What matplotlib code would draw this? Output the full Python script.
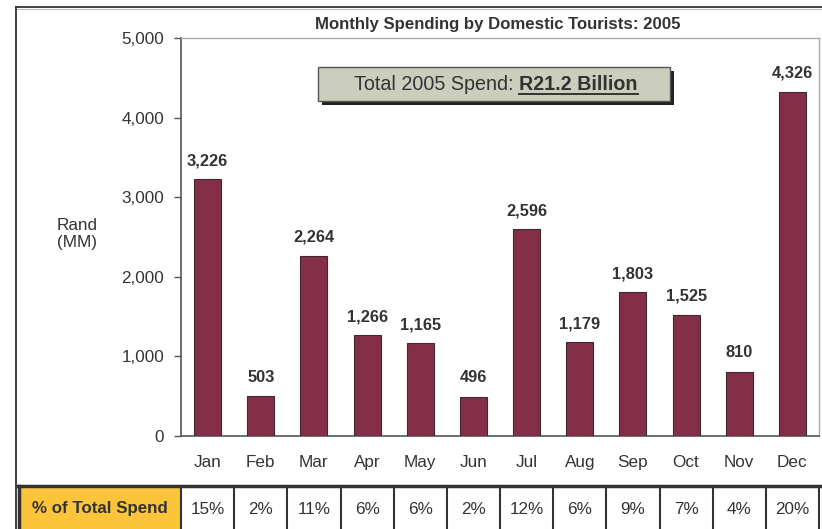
import matplotlib
matplotlib.use("Agg")
import matplotlib.pyplot as plt
from matplotlib.patches import Rectangle
from matplotlib.lines import Line2D
import matplotlib.transforms as mtransforms
from matplotlib.ticker import FuncFormatter

plt.rcParams['font.family'] = ['Liberation Sans', 'DejaVu Sans']

months = ["Jan", "Feb", "Mar", "Apr", "May", "Jun", "Jul", "Aug", "Sep", "Oct", "Nov", "Dec"]
spend = [3226, 503, 2264, 1266, 1165, 496, 2596, 1179, 1803, 1525, 810, 4326]
pct_labels = ["15%", "2%", "11%", "6%", "6%", "2%", "12%", "6%", "9%", "7%", "4%", "20%"]
yticks = [0, 1000, 2000, 3000, 4000, 5000]
title = "Monthly Spending by Domestic Tourists: 2005"
total_prefix = "Total 2005 Spend: "
total_value = "R21.2 Billion"
table_header = "% of Total Spend"
ylabel = "Rand\n(MM)"

W, H = 822, 529
fig = plt.figure(figsize=(W / 100, H / 100), dpi=100)

def fx(px):
    return px / W

def fy(py):
    return 1 - py / H

TXT = "#333333"
ax = fig.add_axes([fx(181), fy(436), fx(819) - fx(181), fy(38) - fy(436)])
x = list(range(len(months)))
ax.bar(x, spend, width=0.51, color="#852e47", edgecolor="#3a2a2e", linewidth=0.8, zorder=3)
ax.set_xlim(-0.5, len(months) - 0.5)
ax.set_ylim(0, 5000)
ax.set_yticks(yticks)
ax.yaxis.set_major_formatter(FuncFormatter(lambda v, p: f"{int(v):,}"))
ax.set_xticks(x)
ax.set_xticklabels(months)
ax.tick_params(axis="x", length=0, pad=14, labelsize=12.3, labelcolor=TXT)
ax.tick_params(axis="y", length=5, width=1, color="#555555", pad=7, labelsize=12.3, labelcolor=TXT)
for s in ["left", "bottom"]:
    ax.spines[s].set_color("#555555")
    ax.spines[s].set_linewidth(1.2)
for s in ["top", "right"]:
    ax.spines[s].set_color("#aaaaaa")
    ax.spines[s].set_linewidth(1.0)

for xi, v in zip(x, spend):
    ax.annotate(f"{v:,}", (xi, v), xytext=(0, 8), textcoords="offset points",
                ha="center", va="bottom", fontsize=11.8, fontweight="bold", color=TXT)

fig.text(fx(498), fy(24), title, ha="center", va="center", fontsize=12.1, fontweight="bold", color=TXT)
fig.text(fx(57), fy(234), ylabel, ha="left", va="center", fontsize=12.3, color=TXT, linespacing=1.15)

# Total box with shadow
bx0, bx1, by0, by1 = 318, 670, 67, 101
fig.add_artist(Rectangle((fx(bx0 + 4), fy(by1 + 4)), fx(bx1 - bx0), fy(by0) - fy(by1),
                         transform=fig.transFigure, facecolor="#222222", edgecolor="none", zorder=4))
fig.add_artist(Rectangle((fx(bx0), fy(by1)), fx(bx1 - bx0), fy(by0) - fy(by1),
                         transform=fig.transFigure, facecolor="#cbcdbd", edgecolor="#555555",
                         linewidth=1.0, zorder=5))
t1 = fig.text(fx(354), fy(85), total_prefix, ha="left", va="center", fontsize=14.2, color=TXT, zorder=6)
fig.canvas.draw()
r = fig.canvas.get_renderer()
bb1 = t1.get_window_extent(r)
t2 = fig.text(bb1.x1 / W, fy(85), total_value, ha="left", va="center", fontsize=14.2,
              fontweight="bold", color=TXT, zorder=6)
fig.canvas.draw()
bb2 = t2.get_window_extent(r)
uy = bb2.y0 + 1
fig.add_artist(Line2D([bb2.x0 / W, bb2.x1 / W], [uy / H, uy / H], transform=fig.transFigure,
                      color=TXT, linewidth=1.4, zorder=6))

# Outer frame
fig.add_artist(Line2D([fx(16), fx(16)], [fy(7), 0], transform=fig.transFigure, color="#333333", linewidth=1.3))
fig.add_artist(Line2D([fx(16), 1], [fy(7), fy(7)], transform=fig.transFigure, color="#333333", linewidth=1.3))
fig.add_artist(Line2D([fx(17), 1], [fy(9), fy(9)], transform=fig.transFigure, color="#bbbbbb", linewidth=0.8))

# Table row
trans = mtransforms.blended_transform_factory(ax.transData, fig.transFigure)
ttop, tbot = fy(486), 0.0
left_edge = ax.transData.transform((-0.5, 0))[0]
fig.add_artist(Rectangle((fx(19), tbot), left_edge / W - fx(19), ttop - tbot,
                         transform=fig.transFigure, facecolor="#fbc43a", edgecolor="none", zorder=1))
fig.text((fx(19) + left_edge / W) / 2, fy(509), table_header, ha="center", va="center",
         fontsize=12.2, fontweight="bold", color=TXT)
fig.add_artist(Line2D([fx(18), 1], [ttop, ttop], transform=fig.transFigure, color="#333333", linewidth=2.5, zorder=3))
fig.add_artist(Line2D([fx(19), fx(19)], [ttop, 0], transform=fig.transFigure, color="#333333", linewidth=2.5, zorder=3))
for i in range(len(months) + 1):
    ln = Line2D([i - 0.5, i - 0.5], [ttop, 0], transform=trans, color="#333333", linewidth=1.5, zorder=3)
    ln.set_clip_on(False)
    fig.add_artist(ln)
for xi, p in zip(x, pct_labels):
    t = fig.text(0, 0, p, transform=trans, ha="center", va="center", fontsize=12.3, color=TXT)
    t.set_position((xi, fy(509)))

fig.savefig("out.png", dpi=100)
